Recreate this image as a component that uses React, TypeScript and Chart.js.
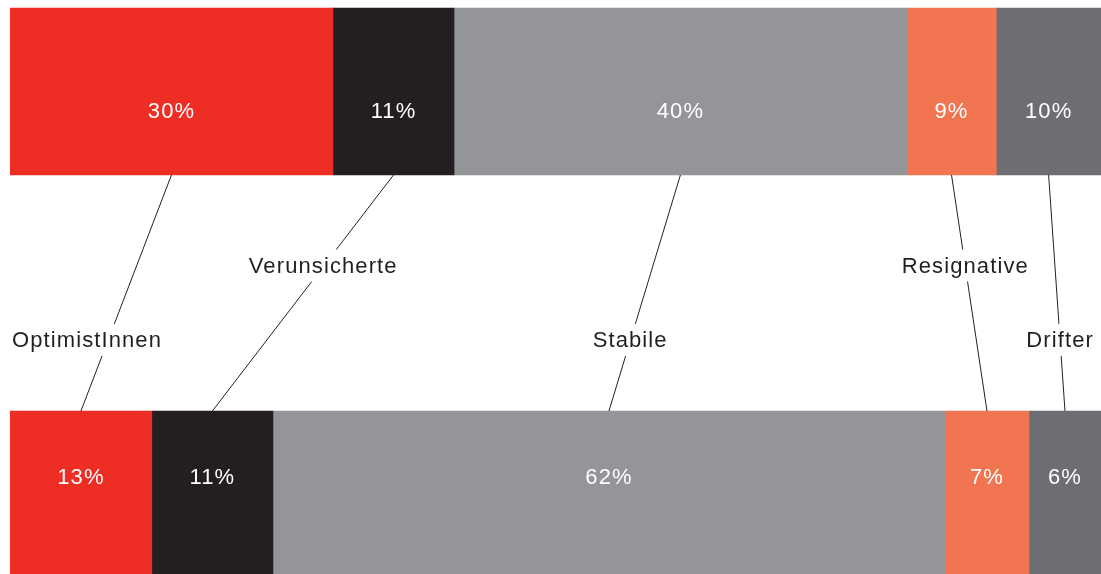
import React, { useEffect, useRef } from "react";
import { Chart, registerables } from "chart.js";

Chart.register(...registerables);

// Data
const rows = ["oben", "unten"];
const segmentNames = ["OptimistInnen", "Verunsicherte", "Stabile", "Resignative", "Drifter"];
const topValues = [29.6, 11.1, 41.5, 8.2, 9.6];
const bottomValues = [13.0, 11.1, 61.6, 7.7, 6.6];
const topLabels = ["30%", "11%", "40%", "9%", "10%"];
const bottomLabels = ["13%", "11%", "62%", "7%", "6%"];

// Styles / layout
const segmentColors = ["#EE2E24", "#231F20", "#939598", "#F27551", "#6D6E71"];
const nameRow = [1, 0, 1, 0, 1];
const nameAlign = ["left", "center", "center", "center", "center"];
const rowFractions = [0.388, 0.703];
const valueLabelOffsets = [20, -17];
const FONT = '22px "Liberation Sans", Arial, Helvetica, sans-serif';
const TEXT_DARK = "#231F20";
const GAP_HALF = 16;

const connectorPlugin = {
  id: "connectors",
  afterDatasetsDraw(chart: any) {
    const ctx = chart.ctx as CanvasRenderingContext2D;
    const area = chart.chartArea;
    ctx.save();
    ctx.font = FONT;
    (ctx as any).letterSpacing = "1.1px";
    ctx.textBaseline = "middle";

    segmentNames.forEach((name, i) => {
      const meta = chart.getDatasetMeta(i);
      const t = meta.data[0].getProps(["x", "y", "base", "height"], true);
      const b = meta.data[1].getProps(["x", "y", "base", "height"], true);
      const x0 = (t.x + t.base) / 2;
      const y0 = t.y + t.height / 2;
      const x1 = (b.x + b.base) / 2;
      const y1 = b.y - b.height / 2;

      // value labels
      ctx.fillStyle = "#FFFFFF";
      ctx.textAlign = "center";
      ctx.fillText(topLabels[i], x0, t.y + valueLabelOffsets[0]);
      ctx.fillText(bottomLabels[i], x1, b.y + valueLabelOffsets[1]);

      // connector
      const ly = y0 + (y1 - y0) * rowFractions[nameRow[i]];
      const xAt = (y: number) => x0 + ((x1 - x0) * (y - y0)) / (y1 - y0);
      ctx.strokeStyle = TEXT_DARK;
      ctx.lineWidth = 1;
      ctx.beginPath();
      ctx.moveTo(x0, y0);
      ctx.lineTo(xAt(ly - GAP_HALF - 1), ly - GAP_HALF - 1);
      ctx.moveTo(xAt(ly + GAP_HALF - 1), ly + GAP_HALF - 1);
      ctx.lineTo(x1, y1);
      ctx.stroke();

      // name label
      ctx.fillStyle = TEXT_DARK;
      if (nameAlign[i] === "left") {
        ctx.textAlign = "left";
        ctx.fillText(name, area.left + 2, ly);
      } else {
        ctx.textAlign = "center";
        ctx.fillText(name, xAt(ly), ly);
      }
    });
    ctx.restore();
  },
};

export default function App() {
  const canvasRef = useRef<HTMLCanvasElement | null>(null);

  useEffect(() => {
    if (!canvasRef.current) return;
    const chart = new Chart(canvasRef.current, {
      type: "bar",
      data: {
        labels: rows,
        datasets: segmentNames.map((name, i) => ({
          label: name,
          data: [topValues[i], bottomValues[i]],
          backgroundColor: segmentColors[i],
          borderWidth: 0,
          barThickness: 167,
        })),
      },
      options: {
        indexAxis: "y",
        animation: false,
        responsive: true,
        maintainAspectRatio: false,
        layout: { padding: { left: 10, right: 0, top: 0, bottom: 0 } },
        scales: {
          x: { stacked: true, min: 0, max: 100, display: false },
          y: { stacked: true, display: false },
        },
        plugins: {
          legend: { display: false },
          tooltip: { enabled: false },
        },
      },
      plugins: [connectorPlugin],
    });
    return () => chart.destroy();
  }, []);

  return (
    <div
      style={{
        position: "fixed",
        left: 0,
        top: -110,
        width: 1101,
        height: 806,
      }}
    >
      <canvas ref={canvasRef} />
    </div>
  );
}
